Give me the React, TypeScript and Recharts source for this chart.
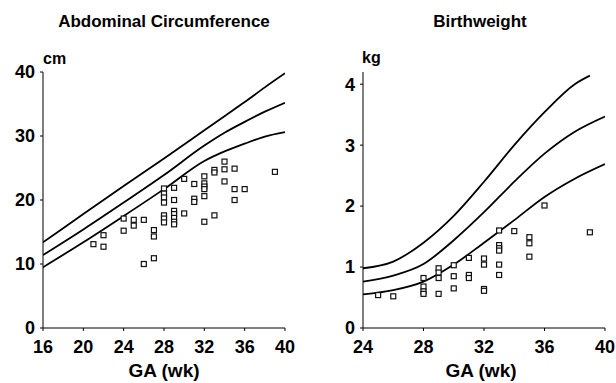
import { ComposedChart, Line, Scatter, XAxis, YAxis } from "recharts";

// Abdominal circumference (cm) reference curves
const acWeeks = [16, 20, 24, 28, 32, 34, 36, 38, 40];
const acUpper = [13.4, 17.8, 22.2, 26.5, 30.9, 33.1, 35.3, 37.6, 39.8];
const acMiddle = [11.4, 15.4, 19.6, 23.9, 28.5, 30.5, 32.2, 33.8, 35.2];
const acLower = [9.5, 13.4, 17.5, 21.7, 26.1, 27.6, 28.8, 29.9, 30.6];

// observed AC points
const acPtWeeks = [
  21, 22, 22, 24, 24, 25, 25, 26, 26, 27, 27, 27,
  28, 28, 28, 28, 28, 28, 28,
  29, 29, 29, 29, 29, 29, 29,
  30, 30, 31, 31, 31,
  32, 32, 32, 32, 32, 32,
  33, 33, 33, 34, 34, 34, 35, 35, 35, 36, 39,
];
const acPtValues = [
  13.1, 14.5, 12.7, 17.1, 15.2, 16.9, 16.0, 16.9, 10.0, 15.3, 14.3, 10.9,
  21.8, 21.0, 20.4, 19.6, 17.6, 17.1, 16.5,
  21.9, 20.0, 18.3, 17.8, 17.2, 16.6, 16.2,
  23.3, 17.9, 22.5, 20.2, 19.7,
  23.7, 22.6, 22.1, 21.7, 20.6, 16.6,
  24.7, 24.3, 17.6, 26.0, 24.8, 22.9, 24.9, 21.7, 20.0, 21.7, 24.4,
];

// Birthweight (kg) reference curves
const bwUpperWeeks = [24, 26, 28, 30, 32, 34, 36, 38, 39];
const bwUpper = [0.98, 1.09, 1.4, 1.84, 2.4, 3.0, 3.54, 4.0, 4.14];
const bwWeeks = [24, 26, 28, 30, 32, 34, 36, 38, 40];
const bwMiddle = [0.76, 0.86, 1.05, 1.44, 1.9, 2.4, 2.86, 3.22, 3.47];
const bwLower = [0.55, 0.62, 0.76, 1.04, 1.4, 1.77, 2.15, 2.45, 2.69];

// observed birthweights
const bwPtWeeks = [
  25, 26, 28, 28, 28, 28, 29, 29, 29, 29, 30, 30, 30, 31, 31, 31,
  32, 32, 32, 32, 33, 33, 33, 33, 33, 33, 34, 35, 35, 35, 36, 39,
];
const bwPtValues = [
  0.54, 0.52, 0.82, 0.68, 0.6, 0.56, 0.98, 0.91, 0.82, 0.56, 1.03, 0.85, 0.65, 1.15, 0.87, 0.82,
  1.14, 1.04, 0.64, 0.61, 1.6, 1.36, 1.31, 1.27, 1.04, 0.87, 1.59, 1.49, 1.39, 1.17, 2.01, 1.57,
];

const acTicksX = [16, 20, 24, 28, 32, 36, 40];
const acTicksY = [0, 10, 20, 30, 40];
const bwTicksX = [24, 28, 32, 36, 40];
const bwTicksY = [0, 1, 2, 3, 4];

const FONT = "'Liberation Sans', Arial, sans-serif";

const toPts = (xs: number[], ys: number[]) => xs.map((x, i) => ({ x, y: ys[i] }));

const tickStyle = { fontSize: 18, fontWeight: 700, fill: "#000", fontFamily: FONT };

const square = (props: any) => {
  const { cx, cy } = props;
  return (
    <rect x={cx - 2.5} y={cy - 2.5} width={5} height={5} fill="#fff" stroke="#111" strokeWidth={1.2} />
  );
};

function Panel({
  left, width, yWidth, right, xDomain, yDomain, xTicks, yTicks, curves, points,
}: {
  left: number; width: number; yWidth: number; right: number;
  xDomain: number[]; yDomain: number[]; xTicks: number[]; yTicks: number[];
  curves: { x: number; y: number }[][]; points: { x: number; y: number }[];
}) {
  return (
    <div style={{ position: "absolute", left, top: 0 }}>
      <ComposedChart width={width} height={383} margin={{ top: 72, right, bottom: 25, left: 0 }}>
        <XAxis
          type="number" dataKey="x" domain={xDomain} ticks={xTicks} allowDataOverflow
          stroke="#000" tickSize={3} tickMargin={9} height={30} tick={tickStyle} interval={0}
        />
        <YAxis
          type="number" dataKey="y" domain={yDomain} ticks={yTicks} allowDataOverflow
          stroke="#000" tickSize={3} tickMargin={5} width={yWidth} tick={tickStyle} interval={0}
        />
        {curves.map((c, i) => (
          <Line
            key={i} data={c} dataKey="y" type="monotone" stroke="#000" strokeWidth={1.8}
            dot={false} isAnimationActive={false}
          />
        ))}
        <Scatter data={points} dataKey="y" shape={square} isAnimationActive={false} />
      </ComposedChart>
    </div>
  );
}

const txt = (extra: any) => ({
  position: "absolute" as const, fontFamily: FONT, fontWeight: 700, color: "#000",
  whiteSpace: "nowrap" as const, lineHeight: "normal", ...extra,
});

export default function App() {
  return (
    <div style={{ position: "absolute", left: 0, top: 0, width: 616, height: 383, background: "#fff", overflow: "hidden" }}>
      <Panel
        left={0} width={300} yWidth={43} right={15}
        xDomain={[16, 40]} yDomain={[0, 40]} xTicks={acTicksX} yTicks={acTicksY}
        curves={[toPts(acWeeks, acUpper), toPts(acWeeks, acMiddle), toPts(acWeeks, acLower)]}
        points={toPts(acPtWeeks, acPtValues)}
      />
      <Panel
        left={306} width={310} yWidth={57} right={11}
        xDomain={[24, 40]} yDomain={[0, 4.2]} xTicks={bwTicksX} yTicks={bwTicksY}
        curves={[toPts(bwUpperWeeks, bwUpper), toPts(bwWeeks, bwMiddle), toPts(bwWeeks, bwLower)]}
        points={toPts(bwPtWeeks, bwPtValues)}
      />
      <div style={txt({ left: 44, top: 12, width: 240, textAlign: "center", fontSize: 17 })}>Abdominal Circumference</div>
      <div style={txt({ left: 420, top: 12, width: 120, textAlign: "center", fontSize: 17 })}>Birthweight</div>
      <div style={txt({ left: 43, top: 50, fontSize: 16 })}>cm</div>
      <div style={txt({ left: 362, top: 49, fontSize: 16 })}>kg</div>
      <div style={txt({ left: 114, top: 360, width: 100, textAlign: "center", fontSize: 19 })}>GA (wk)</div>
      <div style={txt({ left: 431, top: 360, width: 100, textAlign: "center", fontSize: 19 })}>GA (wk)</div>
    </div>
  );
}
